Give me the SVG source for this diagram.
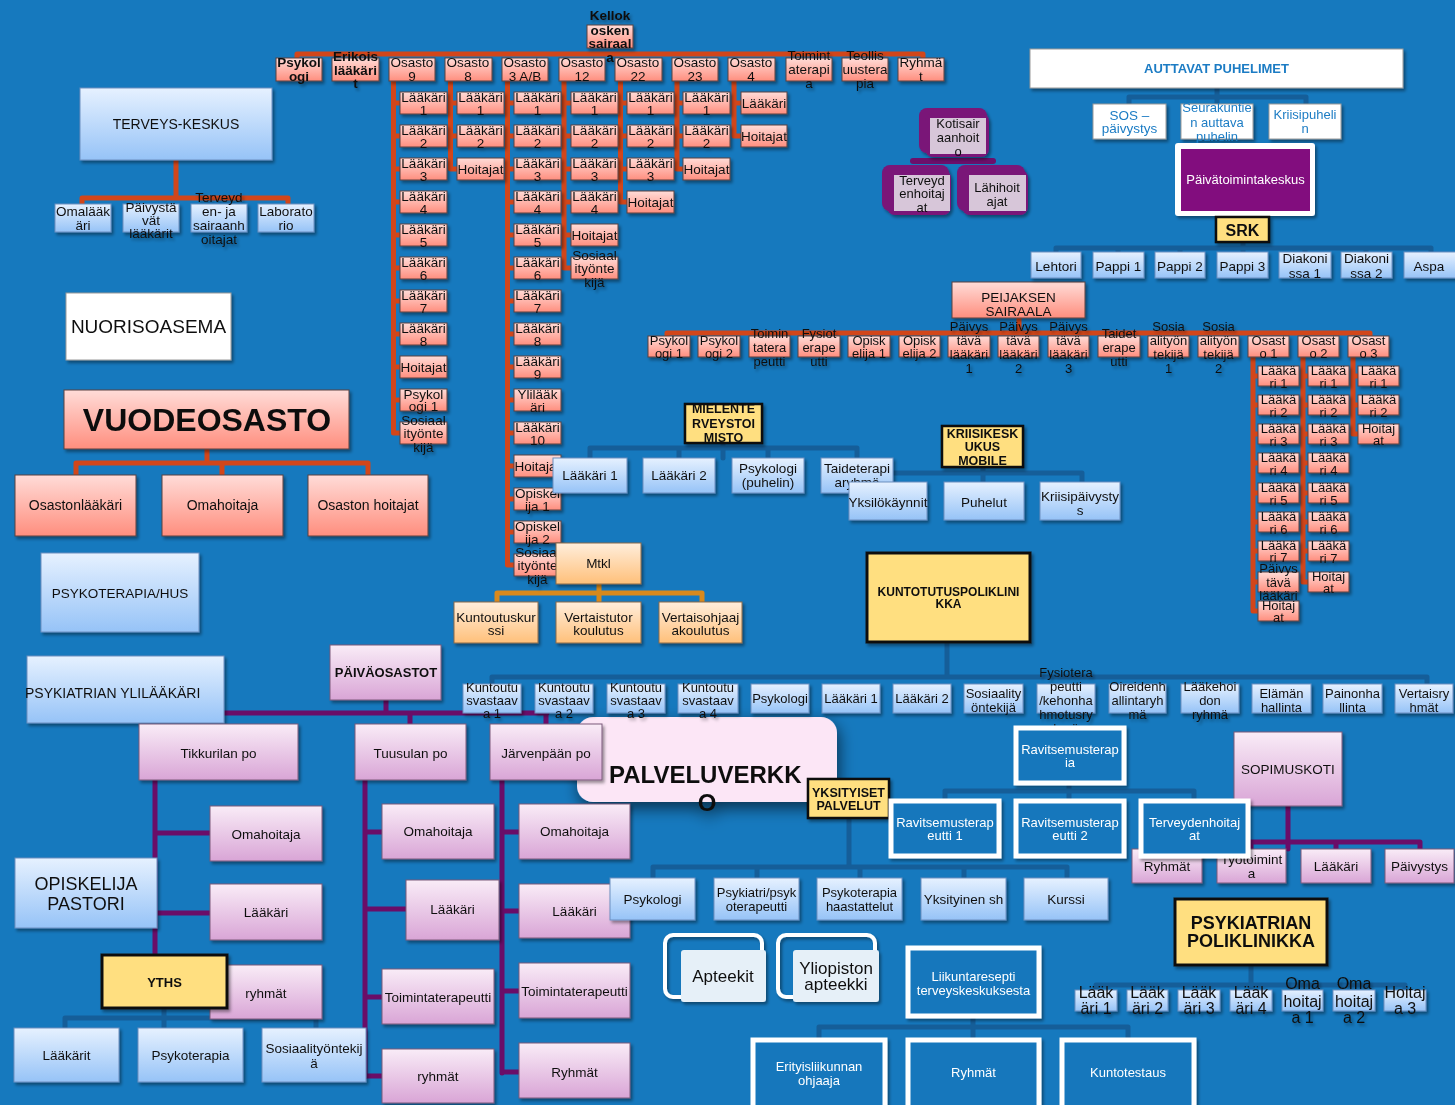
<svg xmlns="http://www.w3.org/2000/svg" width="1455" height="1105" viewBox="0 0 1455 1105">
<defs>
<linearGradient id="gS" x1="0" y1="0" x2="0" y2="1"><stop offset="0" stop-color="#FFDCD8"/><stop offset="1" stop-color="#FF8E7E"/></linearGradient>
<linearGradient id="gB" x1="0" y1="0" x2="0" y2="1"><stop offset="0" stop-color="#E6F1FF"/><stop offset="1" stop-color="#96C3F7"/></linearGradient>
<linearGradient id="gP" x1="0" y1="0" x2="0" y2="1"><stop offset="0" stop-color="#F9ECF7"/><stop offset="1" stop-color="#D9A5D6"/></linearGradient>
<linearGradient id="gO" x1="0" y1="0" x2="0" y2="1"><stop offset="0" stop-color="#FFEEDC"/><stop offset="1" stop-color="#FFC07A"/></linearGradient>
<filter id="sh" x="-20%" y="-20%" width="150%" height="160%"><feDropShadow dx="2" dy="2.5" stdDeviation="1.5" flood-color="#000" flood-opacity="0.4"/></filter>
<filter id="sh2" x="-20%" y="-30%" width="140%" height="170%"><feDropShadow dx="2" dy="6" stdDeviation="8" flood-color="#000" flood-opacity="0.6"/></filter>
</defs>
<style>
text{font-family:"Liberation Sans",Arial,sans-serif;text-anchor:middle;fill:#111;font-size:13.5px}
.n{filter:url(#sh)}
.s{fill:url(#gS);stroke:#5a4040;stroke-width:1}
.b{fill:url(#gB);stroke:#6d8fbf;stroke-width:1}
.p{fill:url(#gP);stroke:#7a5a7a;stroke-width:1}
.o{fill:url(#gO);stroke:#8a6a4a;stroke-width:1}
.y{fill:#FFDF80;stroke:#111;stroke-width:3}
.w{fill:#fff;stroke:#999;stroke-width:1}
.wb{fill:#1677BC;stroke:#fff;stroke-width:5}
.pu{fill:#7A1478}
.li{fill:#D7C6D9}
.bd{font-weight:bold}
.sm{font-size:13px}
.wt{fill:#fff}
.bl{fill:#1c7cc4}
.cr,.cb,.cp,.co,.ck{fill:none;stroke-width:5;stroke-linejoin:round;stroke-linecap:round}
.cr{stroke:#D2461A}
.cb{stroke:#155E99}
.cp{stroke:#6A0D68}
.co{stroke:#D8891C}
.ck{stroke:#6D0F6B;stroke-width:6}
</style>
<rect width="1455" height="1105" fill="#1679BE"/>

<g id="connectors">
<path class="cr" d="M297,59V54H923V59"/>
<path class="cr" d="M393.5,81V433M394,103h6M394,136h6M394,169h6M394,202h6M394,235h6M394,268h6M394,301h6M394,334h6M394,367h6M394,400h6M394,433h6"/>
<path class="cr" d="M450.5,81V169M451,103h6M451,136h6M451,169h6"/>
<path class="cr" d="M507.5,81V565M508,103h6M508,136h6M508,169h6M508,202h6M508,235h6M508,268h6M508,301h6M508,334h6M508,367h6M508,400h6M508,433h6M508,466h6M508,499h6M508,532h6M508,565h6"/>
<path class="cr" d="M564,81V268M564,103h7M564,136h7M564,169h7M564,202h7M564,235h7M564,268h7"/>
<path class="cr" d="M620.5,81V202M621,103h6M621,136h6M621,169h6M621,202h6"/>
<path class="cr" d="M677,81V169M677,103h6M677,136h6M677,169h6"/>
<path class="cr" d="M734,81V136M734,103h7M734,136h7"/>
<path class="cr" d="M176,160V198M82,204V198H288V204"/>
<path class="cr" d="M207,449V463M76,475V463H368V475M222,463V475"/>
<path class="cr" d="M1019,318V333M667,337V333H1370V337"/>
<path class="cr" d="M1253,357V611M1253,376h5M1253,405h5M1253,434h5M1253,463h5M1253,493h5M1253,522h5M1253,551h5M1253,582h5M1253,611h5"/>
<path class="cr" d="M1303,357V582M1303,376h5M1303,405h5M1303,434h5M1303,463h5M1303,493h5M1303,522h5M1303,551h5M1303,582h5"/>
<path class="cr" d="M1353,357V434M1353,376h5M1353,405h5M1353,434h5"/>
<path class="cb" d="M1217,88V104M1129,104V97H1306V104"/>
<path class="cb" d="M1243,242V252M1056,253V248H1431V253M1118,248V253M1180,248V253M1305,248V253M1366,248V253"/>
<path class="cb" d="M723,443V458M590,458V448H857V458M679,448V458M768,448V458"/>
<path class="cb" d="M983,467V482M888,482V473H1082V482"/>
<path class="cb" d="M947,642V677M492,684V677H1427V684"/>
<path class="cb" d="M849,818V867M653,878V867H1067V878M757,867V878M860,867V878M964,867V878"/>
<path class="cb" d="M1069,783V801M945,801V791H1194V801"/>
<path class="cb" d="M973,1016V1040M819,1040V1027H1128V1040"/>
<path class="cb" d="M1251,965V990M1096,990V985H1405V990"/>
<path class="cb" d="M164,1008V1028M65,1028V1018H316V1028"/>
<path class="cp" d="M224,713H547M386,700V713M410,713V724M546,713V724"/>
<path class="cp" d="M155,780V955M155,833H210M157,913H210"/>
<path class="cp" d="M365,780V1077M365,832H382M365,909H406M365,997H382M365,1076H382"/>
<path class="cp" d="M502,780V1073M502,832H519M502,911H519M502,991H519M502,1072H519"/>
<path class="cp" d="M1288,806V849M1167,849V842H1420V849M1251,842V849M1336,842V849"/>
<path class="co" d="M599,584V602M497,602V593H702V602"/>
<path class="ck" d="M913,161H993"/>
</g>

<g id="kellokoski" class="n"><rect class="s" x="587" y="25" width="46" height="23"/><text class="bd" x="610" y="20">Kellok</text><text class="bd" x="610" y="34.5">osken</text><text class="bd" x="610" y="48">sairaal</text><text class="bd" x="610" y="62">a</text></g>
<g id="psykologi-top" class="n"><rect class="s" x="276" y="58" width="46" height="23"/><text class="bd" x="299" y="67">Psykol</text><text class="bd" x="299" y="81">ogi</text></g>
<g id="erikoislaakarit" class="n"><rect class="s" x="332" y="58" width="47" height="23"/><text class="bd" x="355.5" y="61">Erikois</text><text class="bd" x="355.5" y="74.5">lääkäri</text><text class="bd" x="355.5" y="88">t</text></g>
<g id="osasto9" class="n"><rect class="s" x="389" y="58" width="46" height="23"/><text x="412" y="67">Osasto</text><text x="412" y="81">9</text></g>
<g id="osasto8" class="n"><rect class="s" x="445" y="58" width="47" height="23"/><text x="468" y="67">Osasto</text><text x="468" y="81">8</text></g>
<g id="osasto3ab" class="n"><rect class="s" x="502" y="58" width="46" height="23"/><text x="525" y="67">Osasto</text><text x="525" y="81">3 A/B</text></g>
<g id="osasto12" class="n"><rect class="s" x="559" y="58" width="46" height="23"/><text x="582" y="67">Osasto</text><text x="582" y="81">12</text></g>
<g id="osasto22" class="n"><rect class="s" x="615" y="58" width="47" height="23"/><text x="638" y="67">Osasto</text><text x="638" y="81">22</text></g>
<g id="osasto23" class="n"><rect class="s" x="672" y="58" width="46" height="23"/><text x="695" y="67">Osasto</text><text x="695" y="81">23</text></g>
<g id="osasto4" class="n"><rect class="s" x="728" y="58" width="47" height="23"/><text x="751" y="67">Osasto</text><text x="751" y="81">4</text></g>
<g id="toimintaterapia" class="n"><rect class="s" x="786" y="58" width="46" height="23"/><text x="809" y="60">Toimint</text><text x="809" y="74">aterapi</text><text x="809" y="88">a</text></g>
<g id="teollisuusterapia" class="n"><rect class="s" x="842" y="58" width="46" height="23"/><text x="865" y="60">Teollis</text><text x="865" y="74">uustera</text><text x="865" y="88">pia</text></g>
<g id="ryhmat-top" class="n"><rect class="s" x="898" y="58" width="46" height="23"/><text x="921" y="67">Ryhmä</text><text x="921" y="81">t</text></g>

<g id="o9-children">
<g id="o9-l1" class="n"><rect class="s" x="400" y="92" width="47" height="22"/><text x="423.5" y="101.5">Lääkäri</text><text x="423.5" y="114.5">1</text></g>
<g id="o9-l2" class="n"><rect class="s" x="400" y="125" width="47" height="22"/><text x="423.5" y="134.5">Lääkäri</text><text x="423.5" y="147.5">2</text></g>
<g id="o9-l3" class="n"><rect class="s" x="400" y="158" width="47" height="22"/><text x="423.5" y="167.5">Lääkäri</text><text x="423.5" y="180.5">3</text></g>
<g id="o9-l4" class="n"><rect class="s" x="400" y="191" width="47" height="22"/><text x="423.5" y="200.5">Lääkäri</text><text x="423.5" y="213.5">4</text></g>
<g id="o9-l5" class="n"><rect class="s" x="400" y="224" width="47" height="22"/><text x="423.5" y="233.5">Lääkäri</text><text x="423.5" y="246.5">5</text></g>
<g id="o9-l6" class="n"><rect class="s" x="400" y="257" width="47" height="22"/><text x="423.5" y="266.5">Lääkäri</text><text x="423.5" y="279.5">6</text></g>
<g id="o9-l7" class="n"><rect class="s" x="400" y="290" width="47" height="22"/><text x="423.5" y="299.5">Lääkäri</text><text x="423.5" y="312.5">7</text></g>
<g id="o9-l8" class="n"><rect class="s" x="400" y="323" width="47" height="22"/><text x="423.5" y="332.5">Lääkäri</text><text x="423.5" y="345.5">8</text></g>
<g id="o9-hoitajat" class="n"><rect class="s" x="400" y="356" width="47" height="22"/><text x="423.5" y="371.5">Hoitajat</text></g>
<g id="o9-psykologi" class="n"><rect class="s" x="400" y="389" width="47" height="22"/><text x="423.5" y="398.5">Psykol</text><text x="423.5" y="411">ogi 1</text></g>
<g id="o9-sosiaali" class="n"><rect class="s" x="400" y="422" width="47" height="22"/><text x="423.5" y="424.5">Sosiaal</text><text x="423.5" y="438">ityönte</text><text x="423.5" y="451.5">kijä</text></g>
</g>
<g id="o8-children">
<g id="o8-l1" class="n"><rect class="s" x="457" y="92" width="47" height="22"/><text x="480.5" y="101.5">Lääkäri</text><text x="480.5" y="114.5">1</text></g>
<g id="o8-l2" class="n"><rect class="s" x="457" y="125" width="47" height="22"/><text x="480.5" y="134.5">Lääkäri</text><text x="480.5" y="147.5">2</text></g>
<g id="o8-hoitajat" class="n"><rect class="s" x="457" y="158" width="47" height="22"/><text x="480.5" y="173.5">Hoitajat</text></g>
</g>
<g id="o3-children">
<g id="o3-l1" class="n"><rect class="s" x="514" y="92" width="47" height="22"/><text x="537.5" y="101.5">Lääkäri</text><text x="537.5" y="114.5">1</text></g>
<g id="o3-l2" class="n"><rect class="s" x="514" y="125" width="47" height="22"/><text x="537.5" y="134.5">Lääkäri</text><text x="537.5" y="147.5">2</text></g>
<g id="o3-l3" class="n"><rect class="s" x="514" y="158" width="47" height="22"/><text x="537.5" y="167.5">Lääkäri</text><text x="537.5" y="180.5">3</text></g>
<g id="o3-l4" class="n"><rect class="s" x="514" y="191" width="47" height="22"/><text x="537.5" y="200.5">Lääkäri</text><text x="537.5" y="213.5">4</text></g>
<g id="o3-l5" class="n"><rect class="s" x="514" y="224" width="47" height="22"/><text x="537.5" y="233.5">Lääkäri</text><text x="537.5" y="246.5">5</text></g>
<g id="o3-l6" class="n"><rect class="s" x="514" y="257" width="47" height="22"/><text x="537.5" y="266.5">Lääkäri</text><text x="537.5" y="279.5">6</text></g>
<g id="o3-l7" class="n"><rect class="s" x="514" y="290" width="47" height="22"/><text x="537.5" y="299.5">Lääkäri</text><text x="537.5" y="312.5">7</text></g>
<g id="o3-l8" class="n"><rect class="s" x="514" y="323" width="47" height="22"/><text x="537.5" y="332.5">Lääkäri</text><text x="537.5" y="345.5">8</text></g>
<g id="o3-l9" class="n"><rect class="s" x="514" y="356" width="47" height="22"/><text x="537.5" y="365.5">Lääkäri</text><text x="537.5" y="378.5">9</text></g>
<g id="o3-ylilaakari" class="n"><rect class="s" x="514" y="389" width="47" height="22"/><text x="537.5" y="398.5">Ylilääk</text><text x="537.5" y="411.5">äri</text></g>
<g id="o3-l10" class="n"><rect class="s" x="514" y="422" width="47" height="22"/><text x="537.5" y="431.5">Lääkäri</text><text x="537.5" y="444.5">10</text></g>
<g id="o3-hoitajat" class="n"><rect class="s" x="514" y="455" width="47" height="22"/><text x="537.5" y="470.5">Hoitajat</text></g>
<g id="o3-opiskelija1" class="n"><rect class="s" x="514" y="488" width="47" height="22"/><text x="537.5" y="497.5">Opiskel</text><text x="537.5" y="510.5">ija 1</text></g>
<g id="o3-opiskelija2" class="n"><rect class="s" x="514" y="521" width="47" height="22"/><text x="537.5" y="530.5">Opiskel</text><text x="537.5" y="543.5">ija 2</text></g>
<g id="o3-sosiaali" class="n"><rect class="s" x="514" y="554" width="47" height="22"/><text x="537.5" y="556.5">Sosiaal</text><text x="537.5" y="570">ityönte</text><text x="537.5" y="583.5">kijä</text></g>
</g>
<g id="o12-children">
<g id="o12-l1" class="n"><rect class="s" x="571" y="92" width="47" height="22"/><text x="594.5" y="101.5">Lääkäri</text><text x="594.5" y="114.5">1</text></g>
<g id="o12-l2" class="n"><rect class="s" x="571" y="125" width="47" height="22"/><text x="594.5" y="134.5">Lääkäri</text><text x="594.5" y="147.5">2</text></g>
<g id="o12-l3" class="n"><rect class="s" x="571" y="158" width="47" height="22"/><text x="594.5" y="167.5">Lääkäri</text><text x="594.5" y="180.5">3</text></g>
<g id="o12-l4" class="n"><rect class="s" x="571" y="191" width="47" height="22"/><text x="594.5" y="200.5">Lääkäri</text><text x="594.5" y="213.5">4</text></g>
<g id="o12-hoitajat" class="n"><rect class="s" x="571" y="224" width="47" height="22"/><text x="594.5" y="239.5">Hoitajat</text></g>
<g id="o12-sosiaali" class="n"><rect class="s" x="571" y="257" width="47" height="22"/><text x="594.5" y="259.5">Sosiaal</text><text x="594.5" y="273">ityönte</text><text x="594.5" y="286.5">kijä</text></g>
</g>
<g id="o22-children">
<g id="o22-l1" class="n"><rect class="s" x="627" y="92" width="47" height="22"/><text x="650.5" y="101.5">Lääkäri</text><text x="650.5" y="114.5">1</text></g>
<g id="o22-l2" class="n"><rect class="s" x="627" y="125" width="47" height="22"/><text x="650.5" y="134.5">Lääkäri</text><text x="650.5" y="147.5">2</text></g>
<g id="o22-l3" class="n"><rect class="s" x="627" y="158" width="47" height="22"/><text x="650.5" y="167.5">Lääkäri</text><text x="650.5" y="180.5">3</text></g>
<g id="o22-hoitajat" class="n"><rect class="s" x="627" y="191" width="47" height="22"/><text x="650.5" y="206.5">Hoitajat</text></g>
</g>
<g id="o23-children">
<g id="o23-l1" class="n"><rect class="s" x="683" y="92" width="47" height="22"/><text x="706.5" y="101.5">Lääkäri</text><text x="706.5" y="114.5">1</text></g>
<g id="o23-l2" class="n"><rect class="s" x="683" y="125" width="47" height="22"/><text x="706.5" y="134.5">Lääkäri</text><text x="706.5" y="147.5">2</text></g>
<g id="o23-hoitajat" class="n"><rect class="s" x="683" y="158" width="47" height="22"/><text x="706.5" y="173.5">Hoitajat</text></g>
</g>
<g id="o4-children">
<g id="o4-laakari" class="n"><rect class="s" x="741" y="92" width="46" height="22"/><text x="764" y="107.5">Lääkäri</text></g>
<g id="o4-hoitajat" class="n"><rect class="s" x="741" y="125" width="46" height="22"/><text x="764" y="140.5">Hoitajat</text></g>
</g>

<g id="terveyskeskus" class="n"><rect class="b" x="80" y="88" width="192" height="72"/><text x="176" y="129" style="font-size:14px">TERVEYS-KESKUS</text></g>
<g id="omalaakari" class="n"><rect class="b" x="55" y="204" width="56" height="28"/><text x="83" y="215.5">Omalääk</text><text x="83" y="229.5">äri</text></g>
<g id="paivystavat" class="n"><rect class="b" x="123" y="204" width="56" height="28"/><text x="151" y="211.5">Päivystä</text><text x="151" y="224.5">vät</text><text x="151" y="237.5">lääkärit</text></g>
<g id="terveyden-sairaanhoitajat" class="n"><rect class="b" x="191" y="204" width="56" height="28"/><text x="219" y="201.5">Terveyd</text><text x="219" y="215.5">en- ja</text><text x="219" y="229.5">sairaanh</text><text x="219" y="243.5">oitajat</text></g>
<g id="laboratorio" class="n"><rect class="b" x="258" y="204" width="56" height="28"/><text x="286" y="215.5">Laborato</text><text x="286" y="229.5">rio</text></g>

<g id="nuorisoasema" class="n"><rect class="w" x="66" y="293" width="165" height="67"/><text x="148.5" y="333" style="font-size:19px">NUORISOASEMA</text></g>
<g id="vuodeosasto" class="n"><rect class="s" x="64" y="390" width="285" height="59"/><text class="bd" x="207" y="431" style="font-size:32px">VUODEOSASTO</text></g>
<g id="osastonlaakari" class="n"><rect class="s" x="15" y="475" width="121" height="61"/><text x="75.5" y="510" style="font-size:14px">Osastonlääkäri</text></g>
<g id="omahoitaja-vuode" class="n"><rect class="s" x="162" y="475" width="121" height="61"/><text x="222.5" y="510" style="font-size:14px">Omahoitaja</text></g>
<g id="osaston-hoitajat" class="n"><rect class="s" x="308" y="475" width="120" height="61"/><text x="368" y="510" style="font-size:14px">Osaston hoitajat</text></g>
<g id="psykoterapia-hus" class="n"><rect class="b" x="41" y="553" width="158" height="79"/><text x="120" y="597.5">PSYKOTERAPIA/HUS</text></g>

<g id="peijas" class="n"><rect class="s" x="952" y="282" width="133" height="36"/><text x="1018.5" y="301.5">PEIJAKSEN</text><text x="1018.5" y="315.5">SAIRAALA</text></g>
<g id="peijas-children">
<g id="p-psykologi1" class="n"><rect class="s" x="648" y="336" width="42" height="21"/><text class="sm" x="669" y="344.5">Psykol</text><text class="sm" x="669" y="357.5">ogi 1</text></g>
<g id="p-psykologi2" class="n"><rect class="s" x="698" y="336" width="42" height="21"/><text class="sm" x="719" y="344.5">Psykol</text><text class="sm" x="719" y="357.5">ogi 2</text></g>
<g id="p-toimintaterapeutti" class="n"><rect class="s" x="749" y="336" width="41" height="21"/><text class="sm" x="769.5" y="337.5">Toimin</text><text class="sm" x="769.5" y="351.5">tatera</text><text class="sm" x="769.5" y="365.5">peutti</text></g>
<g id="p-fysioterapeutti" class="n"><rect class="s" x="798" y="336" width="42" height="21"/><text class="sm" x="819" y="337.5">Fysiot</text><text class="sm" x="819" y="351.5">erape</text><text class="sm" x="819" y="365.5">utti</text></g>
<g id="p-opiskelija1" class="n"><rect class="s" x="848" y="336" width="42" height="21"/><text class="sm" x="869" y="344.5">Opisk</text><text class="sm" x="869" y="357.5">elija 1</text></g>
<g id="p-opiskelija2" class="n"><rect class="s" x="899" y="336" width="41" height="21"/><text class="sm" x="919.5" y="344.5">Opisk</text><text class="sm" x="919.5" y="357.5">elija 2</text></g>
<g id="p-paivystava1" class="n"><rect class="s" x="948" y="336" width="42" height="21"/><text class="sm" x="969" y="330.5">Päivys</text><text class="sm" x="969" y="344.5">tävä</text><text class="sm" x="969" y="358.5">lääkäri</text><text class="sm" x="969" y="372.5">1</text></g>
<g id="p-paivystava2" class="n"><rect class="s" x="998" y="336" width="41" height="21"/><text class="sm" x="1018.5" y="330.5">Päivys</text><text class="sm" x="1018.5" y="344.5">tävä</text><text class="sm" x="1018.5" y="358.5">lääkäri</text><text class="sm" x="1018.5" y="372.5">2</text></g>
<g id="p-paivystava3" class="n"><rect class="s" x="1048" y="336" width="41" height="21"/><text class="sm" x="1068.5" y="330.5">Päivys</text><text class="sm" x="1068.5" y="344.5">tävä</text><text class="sm" x="1068.5" y="358.5">lääkäri</text><text class="sm" x="1068.5" y="372.5">3</text></g>
<g id="p-taideterapeutti" class="n"><rect class="s" x="1098" y="336" width="42" height="21"/><text class="sm" x="1119" y="337.5">Taidet</text><text class="sm" x="1119" y="351.5">erape</text><text class="sm" x="1119" y="365.5">utti</text></g>
<g id="p-sosiaali1" class="n"><rect class="s" x="1148" y="336" width="41" height="21"/><text class="sm" x="1168.5" y="330.5">Sosia</text><text class="sm" x="1168.5" y="344.5">alityön</text><text class="sm" x="1168.5" y="358.5">tekijä</text><text class="sm" x="1168.5" y="372.5">1</text></g>
<g id="p-sosiaali2" class="n"><rect class="s" x="1198" y="336" width="41" height="21"/><text class="sm" x="1218.5" y="330.5">Sosia</text><text class="sm" x="1218.5" y="344.5">alityön</text><text class="sm" x="1218.5" y="358.5">tekijä</text><text class="sm" x="1218.5" y="372.5">2</text></g>
<g id="p-osasto1" class="n"><rect class="s" x="1248" y="336" width="41" height="21"/><text class="sm" x="1268.5" y="344.5">Osast</text><text class="sm" x="1268.5" y="357.5">o 1</text></g>
<g id="p-osasto2" class="n"><rect class="s" x="1298" y="336" width="41" height="21"/><text class="sm" x="1318.5" y="344.5">Osast</text><text class="sm" x="1318.5" y="357.5">o 2</text></g>
<g id="p-osasto3" class="n"><rect class="s" x="1348" y="336" width="41" height="21"/><text class="sm" x="1368.5" y="344.5">Osast</text><text class="sm" x="1368.5" y="357.5">o 3</text></g>
</g>
<g id="p-osasto1-children">
<g id="po1-l1" class="n"><rect class="s" x="1258" y="366" width="41" height="20"/><text class="sm" x="1278.5" y="374.5">Lääkä</text><text class="sm" x="1278.5" y="387.5">ri 1</text></g>
<g id="po1-l2" class="n"><rect class="s" x="1258" y="395" width="41" height="20"/><text class="sm" x="1278.5" y="403.5">Lääkä</text><text class="sm" x="1278.5" y="416.5">ri 2</text></g>
<g id="po1-l3" class="n"><rect class="s" x="1258" y="424" width="41" height="20"/><text class="sm" x="1278.5" y="432.5">Lääkä</text><text class="sm" x="1278.5" y="445.5">ri 3</text></g>
<g id="po1-l4" class="n"><rect class="s" x="1258" y="453" width="41" height="20"/><text class="sm" x="1278.5" y="461.5">Lääkä</text><text class="sm" x="1278.5" y="474.5">ri 4</text></g>
<g id="po1-l5" class="n"><rect class="s" x="1258" y="483" width="41" height="20"/><text class="sm" x="1278.5" y="491.5">Lääkä</text><text class="sm" x="1278.5" y="504.5">ri 5</text></g>
<g id="po1-l6" class="n"><rect class="s" x="1258" y="512" width="41" height="20"/><text class="sm" x="1278.5" y="520.5">Lääkä</text><text class="sm" x="1278.5" y="533.5">ri 6</text></g>
<g id="po1-l7" class="n"><rect class="s" x="1258" y="541" width="41" height="20"/><text class="sm" x="1278.5" y="549.5">Lääkä</text><text class="sm" x="1278.5" y="562">ri 7</text></g>
<g id="po1-paivystava" class="n"><rect class="s" x="1258" y="572" width="41" height="20"/><text class="sm" x="1278.5" y="573">Päivys</text><text class="sm" x="1278.5" y="586.5">tävä</text><text class="sm" x="1278.5" y="599.5">lääkäri</text></g>
<g id="po1-hoitajat" class="n"><rect class="s" x="1258" y="601" width="41" height="20"/><text class="sm" x="1278.5" y="610">Hoitaj</text><text class="sm" x="1278.5" y="621.5">at</text></g>
</g>
<g id="p-osasto2-children">
<g id="po2-l1" class="n"><rect class="s" x="1308" y="366" width="41" height="20"/><text class="sm" x="1328.5" y="374.5">Lääkä</text><text class="sm" x="1328.5" y="387.5">ri 1</text></g>
<g id="po2-l2" class="n"><rect class="s" x="1308" y="395" width="41" height="20"/><text class="sm" x="1328.5" y="403.5">Lääkä</text><text class="sm" x="1328.5" y="416.5">ri 2</text></g>
<g id="po2-l3" class="n"><rect class="s" x="1308" y="424" width="41" height="20"/><text class="sm" x="1328.5" y="432.5">Lääkä</text><text class="sm" x="1328.5" y="445.5">ri 3</text></g>
<g id="po2-l4" class="n"><rect class="s" x="1308" y="453" width="41" height="20"/><text class="sm" x="1328.5" y="461.5">Lääkä</text><text class="sm" x="1328.5" y="474.5">ri 4</text></g>
<g id="po2-l5" class="n"><rect class="s" x="1308" y="483" width="41" height="20"/><text class="sm" x="1328.5" y="491.5">Lääkä</text><text class="sm" x="1328.5" y="504.5">ri 5</text></g>
<g id="po2-l6" class="n"><rect class="s" x="1308" y="512" width="41" height="20"/><text class="sm" x="1328.5" y="520.5">Lääkä</text><text class="sm" x="1328.5" y="533.5">ri 6</text></g>
<g id="po2-l7" class="n"><rect class="s" x="1308" y="541" width="41" height="20"/><text class="sm" x="1328.5" y="549.5">Lääkä</text><text class="sm" x="1328.5" y="562.5">ri 7</text></g>
<g id="po2-hoitajat" class="n"><rect class="s" x="1308" y="572" width="41" height="20"/><text class="sm" x="1328.5" y="580.5">Hoitaj</text><text class="sm" x="1328.5" y="592.5">at</text></g>
</g>
<g id="p-osasto3-children">
<g id="po3-l1" class="n"><rect class="s" x="1358" y="366" width="41" height="20"/><text class="sm" x="1378.5" y="374.5">Lääkä</text><text class="sm" x="1378.5" y="387.5">ri 1</text></g>
<g id="po3-l2" class="n"><rect class="s" x="1358" y="395" width="41" height="20"/><text class="sm" x="1378.5" y="403.5">Lääkä</text><text class="sm" x="1378.5" y="416.5">ri 2</text></g>
<g id="po3-hoitajat" class="n"><rect class="s" x="1358" y="424" width="41" height="20"/><text class="sm" x="1378.5" y="432.5">Hoitaj</text><text class="sm" x="1378.5" y="444.5">at</text></g>
</g>

<g id="kotisairaanhoito" class="n"><rect class="pu" x="919" y="108" width="68" height="45" rx="8"/><rect class="pu" x="925" y="113" width="64" height="44" rx="8"/><rect class="li" x="930" y="118" width="56" height="36"/><text class="sm" x="958" y="127.5">Kotisair</text><text class="sm" x="958" y="141.5">aanhoit</text><text class="sm" x="958" y="155.5">o</text></g>
<g id="terveydenhoitajat-koti" class="n"><rect class="pu" x="882" y="165" width="67" height="46" rx="8"/><rect class="pu" x="887" y="170" width="64" height="45" rx="8"/><rect class="li" x="894" y="175" width="56" height="36"/><text class="sm" x="922" y="184.5">Terveyd</text><text class="sm" x="922" y="197.5">enhoitaj</text><text class="sm" x="922" y="211.5">at</text></g>
<g id="lahihoitajat" class="n"><rect class="pu" x="957" y="165" width="68" height="46" rx="8"/><rect class="pu" x="962" y="170" width="66" height="45" rx="8"/><rect class="li" x="969" y="175" width="57" height="36"/><text class="sm" x="997" y="191.5">Lähihoit</text><text class="sm" x="997" y="205.5">ajat</text></g>

<g id="auttavat-puhelimet" class="n"><rect class="w" x="1030" y="49" width="373" height="39"/><text class="bd bl" x="1216.5" y="72.5" style="font-size:13px">AUTTAVAT PUHELIMET</text></g>
<g id="sos-paivystys" class="n"><rect class="w" x="1093" y="104" width="73" height="35"/><text class="bl" x="1129.5" y="119.5">SOS –</text><text class="bl" x="1129.5" y="132.5">päivystys</text></g>
<g id="seurakuntien-puhelin" class="n"><rect class="w" x="1181" y="104" width="72" height="35"/><text class="bl sm" x="1217" y="111.5">Seurakuntie</text><text class="bl sm" x="1217" y="126.5">n auttava</text><text class="bl sm" x="1217" y="140.5">puhelin</text></g>
<g id="kriisipuhelin" class="n"><rect class="w" x="1269" y="104" width="72" height="35"/><text class="bl sm" x="1305" y="118.5">Kriisipuheli</text><text class="bl sm" x="1305" y="132.5">n</text></g>
<g id="paivatoimintakeskus" class="n"><rect x="1175" y="143" width="140" height="73" rx="3" fill="#fff"/><rect x="1181" y="149" width="129" height="62" fill="#820F7E"/><text class="wt sm" x="1245.5" y="184">Päivätoimintakeskus</text></g>
<g id="srk" class="n"><rect class="y" x="1216" y="217" width="53" height="25" style="stroke-width:2.5"/><text class="bd" x="1242.5" y="235.5" style="font-size:16px">SRK</text></g>
<g id="lehtori" class="n"><rect class="b" x="1031" y="252" width="50" height="26"/><text x="1056" y="270.5">Lehtori</text></g>
<g id="pappi1" class="n"><rect class="b" x="1093" y="252" width="51" height="26"/><text x="1118.5" y="270.5">Pappi 1</text></g>
<g id="pappi2" class="n"><rect class="b" x="1155" y="252" width="50" height="26"/><text x="1180" y="270.5">Pappi 2</text></g>
<g id="pappi3" class="n"><rect class="b" x="1217" y="252" width="51" height="26"/><text x="1242.5" y="270.5">Pappi 3</text></g>
<g id="diakonissa1" class="n"><rect class="b" x="1279" y="252" width="52" height="26"/><text x="1305" y="262.5">Diakoni</text><text x="1305" y="277.5">ssa 1</text></g>
<g id="diakonissa2" class="n"><rect class="b" x="1341" y="252" width="51" height="26"/><text x="1366.5" y="262.5">Diakoni</text><text x="1366.5" y="277.5">ssa 2</text></g>
<g id="aspa" class="n"><rect class="b" x="1404" y="252" width="60" height="26"/><text x="1429" y="270.5">Aspa</text></g>

<g id="mielenterveystoimisto" class="n"><rect class="y" x="685" y="404" width="77" height="39" style="stroke-width:2.5"/><text class="bd" x="723.5" y="412.5" style="font-size:12.5px">MIELENTE</text><text class="bd" x="723.5" y="427.5" style="font-size:12.5px">RVEYSTOI</text><text class="bd" x="723.5" y="441.5" style="font-size:12.5px">MISTO</text></g>
<g id="mt-laakari1" class="n"><rect class="b" x="553" y="458" width="74" height="35"/><text x="590" y="479.5">Lääkäri 1</text></g>
<g id="mt-laakari2" class="n"><rect class="b" x="643" y="458" width="72" height="35"/><text x="679" y="479.5">Lääkäri 2</text></g>
<g id="mt-psykologi" class="n"><rect class="b" x="732" y="458" width="72" height="35"/><text x="768" y="472.5">Psykologi</text><text x="768" y="486.5">(puhelin)</text></g>
<g id="mt-taideterapia" class="n"><rect class="b" x="821" y="458" width="72" height="35"/><text x="857" y="472.5">Taideterapi</text><text x="857" y="486.5">aryhmä</text></g>
<g id="kriisikeskus" class="n"><rect class="y" x="942" y="426" width="81" height="41" style="stroke-width:2.5"/><text class="bd" x="982.5" y="437.5" style="font-size:12.5px">KRIISIKESK</text><text class="bd" x="982.5" y="450.5" style="font-size:12.5px">UKUS</text><text class="bd" x="982.5" y="464.5" style="font-size:12.5px">MOBILE</text></g>
<g id="yksilokaynnit" class="n"><rect class="b" x="849" y="482" width="78" height="38"/><text x="888" y="506.5">Yksilökäynnit</text></g>
<g id="puhelut" class="n"><rect class="b" x="944" y="482" width="80" height="38"/><text x="984" y="506.5">Puhelut</text></g>
<g id="kriisipaivystys" class="n"><rect class="b" x="1040" y="482" width="80" height="38"/><text x="1080" y="500.5">Kriisipäivysty</text><text x="1080" y="514.5">s</text></g>

<g id="mtkl" class="n"><rect class="o" x="556" y="543" width="85" height="41"/><text x="598.5" y="567.5">Mtkl</text></g>
<g id="kuntoutuskurssi" class="n"><rect class="o" x="454" y="602" width="84" height="41"/><text x="496" y="621.5">Kuntoutuskur</text><text x="496" y="634.5">ssi</text></g>
<g id="vertaistutorkoulutus" class="n"><rect class="o" x="556" y="602" width="85" height="41"/><text x="598.5" y="621.5">Vertaistutor</text><text x="598.5" y="634.5">koulutus</text></g>
<g id="vertaisohjaajakoulutus" class="n"><rect class="o" x="659" y="602" width="83" height="41"/><text x="700.5" y="621.5">Vertaisohjaaj</text><text x="700.5" y="634.5">akoulutus</text></g>

<g id="kuntoutuspoliklinikka" class="n"><rect class="y" x="867" y="553" width="163" height="89"/><text class="bd" x="948.5" y="595.5" style="font-size:12px">KUNTOTUTUSPOLIKLINI</text><text class="bd" x="948.5" y="607.5" style="font-size:12px">KKA</text></g>

<g id="palveluverkko" style="filter:url(#sh2)"><rect x="577" y="717" width="260" height="85" rx="16" fill="#FCE6F6"/><text class="bd" x="609" y="783" style="text-anchor:start;font-size:24px">PALVELUVERKK</text><text class="bd" x="707" y="811" style="font-size:24px">O</text></g>

<g id="kuntoutus-children">
<g id="kv1" class="n"><rect class="b" x="463" y="684" width="58" height="29"/><text class="sm" x="492" y="691.5">Kuntoutu</text><text class="sm" x="492" y="704.5">svastaav</text><text class="sm" x="492" y="717.5">a 1</text></g>
<g id="kv2" class="n"><rect class="b" x="535" y="684" width="58" height="29"/><text class="sm" x="564" y="691.5">Kuntoutu</text><text class="sm" x="564" y="704.5">svastaav</text><text class="sm" x="564" y="717.5">a 2</text></g>
<g id="kv3" class="n"><rect class="b" x="607" y="684" width="58" height="29"/><text class="sm" x="636" y="691.5">Kuntoutu</text><text class="sm" x="636" y="704.5">svastaav</text><text class="sm" x="636" y="717.5">a 3</text></g>
<g id="kv4" class="n"><rect class="b" x="678" y="684" width="60" height="29"/><text class="sm" x="708" y="691.5">Kuntoutu</text><text class="sm" x="708" y="704.5">svastaav</text><text class="sm" x="708" y="717.5">a 4</text></g>
<g id="k-psykologi" class="n"><rect class="b" x="751" y="684" width="58" height="29"/><text class="sm" x="780" y="703">Psykologi</text></g>
<g id="k-laakari1" class="n"><rect class="b" x="822" y="684" width="58" height="29"/><text class="sm" x="851" y="703">Lääkäri 1</text></g>
<g id="k-laakari2" class="n"><rect class="b" x="893" y="684" width="58" height="29"/><text class="sm" x="922" y="703">Lääkäri 2</text></g>
<g id="k-sosiaali" class="n"><rect class="b" x="964" y="684" width="59" height="29"/><text class="sm" x="993.5" y="697.5">Sosiaality</text><text class="sm" x="993.5" y="711.5">öntekijä</text></g>
<g id="k-fysio" class="n"><rect class="b" x="1037" y="684" width="58" height="29"/><text class="sm" x="1066" y="676.5">Fysiotera</text><text class="sm" x="1066" y="690.5">peutti</text><text class="sm" x="1066" y="704.5">/kehonha</text><text class="sm" x="1066" y="718.5">hmotusry</text><text class="sm" x="1066" y="732.5">hmä</text></g>
<g id="k-oireiden" class="n"><rect class="b" x="1109" y="684" width="57" height="29"/><text class="sm" x="1137.5" y="690.5">Oireidenh</text><text class="sm" x="1137.5" y="704.5">allintaryh</text><text class="sm" x="1137.5" y="718.5">mä</text></g>
<g id="k-laakehoito" class="n"><rect class="b" x="1181" y="684" width="58" height="29"/><text class="sm" x="1210" y="690.5">Lääkehoi</text><text class="sm" x="1210" y="704.5">don</text><text class="sm" x="1210" y="718.5">ryhmä</text></g>
<g id="k-elaman" class="n"><rect class="b" x="1252" y="684" width="59" height="29"/><text class="sm" x="1281.5" y="697.5">Elämän</text><text class="sm" x="1281.5" y="711.5">hallinta</text></g>
<g id="k-painon" class="n"><rect class="b" x="1323" y="684" width="59" height="29"/><text class="sm" x="1352.5" y="697.5">Painonha</text><text class="sm" x="1352.5" y="711.5">llinta</text></g>
<g id="k-vertais" class="n"><rect class="b" x="1395" y="684" width="58" height="29"/><text class="sm" x="1424" y="697.5">Vertaisry</text><text class="sm" x="1424" y="711.5">hmät</text></g>
</g>

<g id="psykiatrian-ylilaakari" class="n"><rect class="b" x="27" y="656" width="197" height="67"/><text x="25" y="698" style="text-anchor:start;font-size:14px">PSYKIATRIAN YLILÄÄKÄRI</text></g>
<g id="paivaosastot" class="n"><rect class="p" x="330" y="645" width="111" height="55"/><text class="bd" x="386" y="677" style="font-size:13px">PÄIVÄOSASTOT</text></g>
<g id="tikkurilan-po" class="n"><rect class="p" x="139" y="724" width="159" height="56"/><text x="218.5" y="757.5">Tikkurilan po</text></g>
<g id="tuusulan-po" class="n"><rect class="p" x="355" y="724" width="111" height="56"/><text x="410.5" y="757.5">Tuusulan po</text></g>
<g id="jarvenpaan-po" class="n"><rect class="p" x="490" y="724" width="112" height="56"/><text x="546" y="757.5">Järvenpään po</text></g>
<g id="t-omahoitaja" class="n"><rect class="p" x="210" y="806" width="112" height="55"/><text x="266" y="838.5">Omahoitaja</text></g>
<g id="opiskelijapastori" class="n"><rect class="b" x="15" y="858" width="142" height="70"/><text x="86" y="889.5" style="font-size:18px">OPISKELIJA</text><text x="86" y="909.5" style="font-size:18px">PASTORI</text></g>
<g id="t-laakari" class="n"><rect class="p" x="210" y="884" width="112" height="56"/><text x="266" y="916.5">Lääkäri</text></g>
<g id="t-ryhmat" class="n"><rect class="p" x="210" y="965" width="112" height="54"/><text x="266" y="997.5">ryhmät</text></g>
<g id="yths" class="n"><rect class="y" x="102" y="955" width="125" height="53"/><text class="bd" x="164.5" y="986.5" style="font-size:13px">YTHS</text></g>
<g id="yths-laakarit" class="n"><rect class="b" x="14" y="1028" width="105" height="54"/><text x="66.5" y="1059.5">Lääkärit</text></g>
<g id="yths-psykoterapia" class="n"><rect class="b" x="138" y="1028" width="105" height="54"/><text x="190.5" y="1059.5">Psykoterapia</text></g>
<g id="yths-sosiaali" class="n"><rect class="b" x="262" y="1028" width="104" height="54"/><text x="314" y="1052.5">Sosiaalityöntekij</text><text x="314" y="1067.5">ä</text></g>
<g id="tu-omahoitaja" class="n"><rect class="p" x="382" y="804" width="112" height="55"/><text x="438" y="836">Omahoitaja</text></g>
<g id="tu-laakari" class="n"><rect class="p" x="406" y="880" width="93" height="60"/><text x="452.5" y="913.5">Lääkäri</text></g>
<g id="tu-toimintaterapeutti" class="n"><rect class="p" x="382" y="969" width="112" height="55"/><text x="438" y="1001.5">Toimintaterapeutti</text></g>
<g id="tu-ryhmat" class="n"><rect class="p" x="382" y="1049" width="112" height="54"/><text x="438" y="1080.5">ryhmät</text></g>
<g id="ja-omahoitaja" class="n"><rect class="p" x="519" y="804" width="111" height="55"/><text x="574.5" y="836">Omahoitaja</text></g>
<g id="ja-laakari" class="n"><rect class="p" x="519" y="884" width="111" height="54"/><text x="574.5" y="915.5">Lääkäri</text></g>
<g id="ja-toimintaterapeutti" class="n"><rect class="p" x="519" y="963" width="111" height="55"/><text x="574.5" y="995.5">Toimintaterapeutti</text></g>
<g id="ja-ryhmat" class="n"><rect class="p" x="519" y="1043" width="111" height="55"/><text x="574.5" y="1076.5">Ryhmät</text></g>

<g id="yksityiset-palvelut" class="n"><rect class="y" x="808" y="779" width="81" height="39" style="stroke-width:2.5"/><text class="bd" x="848.5" y="796.5" style="font-size:12.5px">YKSITYISET</text><text class="bd" x="848.5" y="809.5" style="font-size:12.5px">PALVELUT</text></g>
<g id="y-psykologi" class="n"><rect class="b" x="610" y="878" width="85" height="42"/><text x="652.5" y="903.5">Psykologi</text></g>
<g id="y-psykiatri" class="n"><rect class="b" x="714" y="878" width="85" height="42"/><text class="sm" x="756.5" y="896.5">Psykiatri/psyk</text><text class="sm" x="756.5" y="910.5">oterapeutti</text></g>
<g id="y-psykoterapia" class="n"><rect class="b" x="817" y="878" width="85" height="42"/><text class="sm" x="859.5" y="896.5">Psykoterapia</text><text class="sm" x="859.5" y="910.5">haastattelut</text></g>
<g id="y-yksityinen-sh" class="n"><rect class="b" x="921" y="878" width="85" height="42"/><text x="963.5" y="903.5">Yksityinen sh</text></g>
<g id="y-kurssi" class="n"><rect class="b" x="1024" y="878" width="84" height="42"/><text x="1066" y="903.5">Kurssi</text></g>

<g id="apteekit" class="n"><rect x="665" y="935" width="97" height="62" rx="8" fill="none" stroke="#fff" stroke-width="4"/><rect x="681" y="950" width="85" height="52" rx="3" fill="#E6F0F8"/><text x="723" y="982" style="font-size:17px">Apteekit</text></g>
<g id="yliopiston-apteekki" class="n"><rect x="778" y="935" width="97" height="62" rx="8" fill="none" stroke="#fff" stroke-width="4"/><rect x="793" y="950" width="86" height="52" rx="3" fill="#E6F0F8"/><text x="836" y="974" style="font-size:17px">Yliopiston</text><text x="836" y="990" style="font-size:17px">apteekki</text></g>
<g id="liikuntaresepti" class="n"><rect class="wb" x="908" y="948" width="131" height="68"/><text class="wt sm" x="973.5" y="980.5">Liikuntaresepti</text><text class="wt sm" x="973.5" y="994.5">terveyskeskuksesta</text></g>
<g id="erityisliikunnan-ohjaaja" class="n"><rect class="wb" x="753" y="1040" width="132" height="72"/><text class="wt sm" x="819" y="1070.5">Erityisliikunnan</text><text class="wt sm" x="819" y="1084.5">ohjaaja</text></g>
<g id="l-ryhmat" class="n"><rect class="wb" x="908" y="1040" width="131" height="72"/><text class="wt sm" x="973.5" y="1076.5">Ryhmät</text></g>
<g id="kuntotestaus" class="n"><rect class="wb" x="1062" y="1040" width="132" height="72"/><text class="wt sm" x="1128" y="1076.5">Kuntotestaus</text></g>

<g id="sopimuskoti" class="n"><rect class="p" x="1234" y="732" width="108" height="74"/><text x="1288" y="773.5">SOPIMUSKOTI</text></g>
<g id="s-ryhmat" class="n"><rect class="p" x="1132" y="849" width="70" height="34"/><text x="1167" y="870.5">Ryhmät</text></g>
<g id="s-tyotoiminta" class="n"><rect class="p" x="1217" y="849" width="69" height="34"/><text x="1251.5" y="863.5">Työtoimint</text><text x="1251.5" y="877.5">a</text></g>
<g id="s-laakari" class="n"><rect class="p" x="1301" y="849" width="70" height="34"/><text x="1336" y="870.5">Lääkäri</text></g>
<g id="s-paivystys" class="n"><rect class="p" x="1385" y="849" width="69" height="34"/><text x="1419.5" y="870.5">Päivystys</text></g>

<g id="ravitsemusterapia" class="n"><rect class="wb" x="1016" y="728" width="108" height="55"/><text class="wt sm" x="1070" y="753.5">Ravitsemusterap</text><text class="wt sm" x="1070" y="766.5">ia</text></g>
<g id="ravitsemusterapeutti1" class="n"><rect class="wb" x="891" y="801" width="108" height="55"/><text class="wt sm" x="945" y="826.5">Ravitsemusterap</text><text class="wt sm" x="945" y="839.5">eutti  1</text></g>
<g id="ravitsemusterapeutti2" class="n"><rect class="wb" x="1016" y="801" width="108" height="55"/><text class="wt sm" x="1070" y="826.5">Ravitsemusterap</text><text class="wt sm" x="1070" y="839.5">eutti 2</text></g>
<g id="terveydenhoitajat" class="n"><rect class="wb" x="1141" y="801" width="107" height="55"/><text class="wt sm" x="1194.5" y="826.5">Terveydenhoitaj</text><text class="wt sm" x="1194.5" y="839.5">at</text></g>

<g id="psykiatrian-poliklinikka" class="n"><rect class="y" x="1175" y="899" width="152" height="66"/><text class="bd" x="1251" y="928.5" style="font-size:18px">PSYKIATRIAN</text><text class="bd" x="1251" y="947" style="font-size:18px">POLIKLINIKKA</text></g>
<g id="pp-laakari1" class="n"><rect class="b" x="1075" y="990" width="42" height="21"/><text x="1096" y="997.5" style="font-size:16px">Lääk</text><text x="1096" y="1014" style="font-size:16px">äri 1</text></g>
<g id="pp-laakari2" class="n"><rect class="b" x="1127" y="990" width="41" height="21"/><text x="1147.5" y="997.5" style="font-size:16px">Lääk</text><text x="1147.5" y="1014" style="font-size:16px">äri 2</text></g>
<g id="pp-laakari3" class="n"><rect class="b" x="1178" y="990" width="42" height="21"/><text x="1199" y="997.5" style="font-size:16px">Lääk</text><text x="1199" y="1014" style="font-size:16px">äri 3</text></g>
<g id="pp-laakari4" class="n"><rect class="b" x="1230" y="990" width="42" height="21"/><text x="1251" y="997.5" style="font-size:16px">Lääk</text><text x="1251" y="1014" style="font-size:16px">äri 4</text></g>
<g id="pp-omahoitaja1" class="n"><rect class="b" x="1282" y="990" width="41" height="21"/><text x="1302.5" y="988.5" style="font-size:16px">Oma</text><text x="1302.5" y="1006.5" style="font-size:16px">hoitaj</text><text x="1302.5" y="1022.5" style="font-size:16px">a 1</text></g>
<g id="pp-omahoitaja2" class="n"><rect class="b" x="1333" y="990" width="42" height="21"/><text x="1354" y="988.5" style="font-size:16px">Oma</text><text x="1354" y="1006.5" style="font-size:16px">hoitaj</text><text x="1354" y="1022.5" style="font-size:16px">a 2</text></g>
<g id="pp-hoitaja3" class="n"><rect class="b" x="1384" y="990" width="42" height="21"/><text x="1405" y="997.5" style="font-size:16px">Hoitaj</text><text x="1405" y="1014" style="font-size:16px">a 3</text></g>
</svg>
